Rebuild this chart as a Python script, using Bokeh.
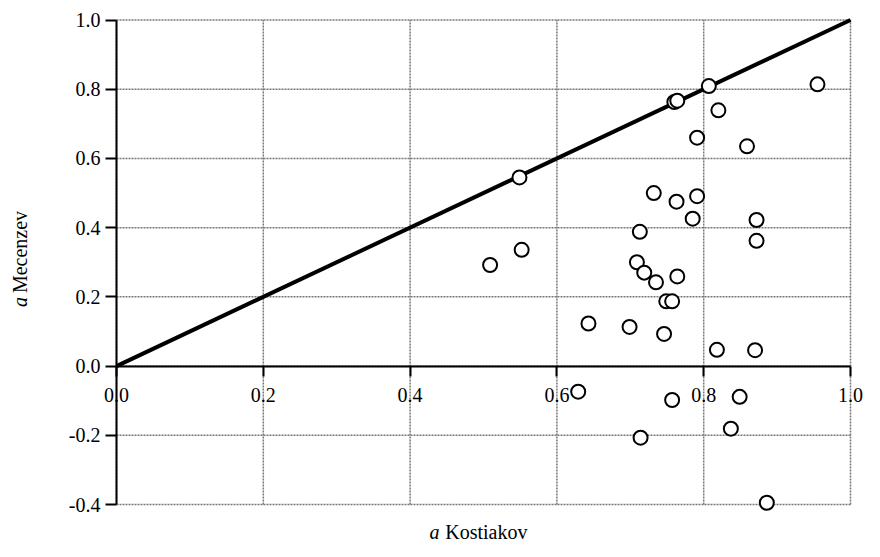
import math
from bokeh.plotting import figure
from bokeh.models import Range1d, FixedTicker, NumeralTickFormatter, Label
from bokeh.embed import file_html
from bokeh.resources import INLINE

# Data (a Kostiakov vs a Mecenzev)
kostiakov = [0.549, 0.760, 0.764, 0.807, 0.955, 0.820, 0.791, 0.859,
             0.732, 0.763, 0.791, 0.785, 0.872, 0.872, 0.713, 0.552,
             0.509, 0.709, 0.719, 0.735, 0.764, 0.749, 0.757, 0.643,
             0.699, 0.746, 0.818, 0.870, 0.629, 0.757, 0.849, 0.837,
             0.714, 0.886]
mecenzev = [0.545, 0.763, 0.767, 0.809, 0.814, 0.739, 0.660, 0.635,
            0.500, 0.475, 0.491, 0.426, 0.422, 0.362, 0.388, 0.336,
            0.292, 0.300, 0.270, 0.242, 0.259, 0.187, 0.187, 0.123,
            0.113, 0.093, 0.047, 0.046, -0.074, -0.098, -0.089, -0.181,
            -0.207, -0.395]

line_x = [0.0, 1.0]
line_y = [0.0, 1.0]

x_ticks = [0.0, 0.2, 0.4, 0.6, 0.8, 1.0]
y_ticks = [-0.4, -0.2, 0.0, 0.2, 0.4, 0.6, 0.8, 1.0]

FONT = "Liberation Serif"
FS = "20px"

# ---- layout (pixels inside the canvas) ----
W, H = 864, 541
PX_X0, PX_X1 = 116.0, 850.0      # pixel of x = 0 and x = 1
PX_YTOP, PX_YBOT = 19.5, 504.0   # pixel of y = 1.0 and y = -0.4
x_lo, x_hi = x_ticks[0], x_ticks[-1]
y_lo, y_hi = y_ticks[0], y_ticks[-1]
kx = (PX_X1 - PX_X0) / (x_hi - x_lo)
ky = (PX_YBOT - PX_YTOP) / (y_hi - y_lo)


def dx(px):
    return x_lo + (px - PX_X0) / kx


def dy(py):
    return y_hi - (py - PX_YTOP) / ky


p = figure(width=W, height=H, output_backend="svg", toolbar_location=None,
           title=None,
           x_range=Range1d(dx(0), dx(W)), y_range=Range1d(dy(H), dy(0)),
           min_border_left=0, min_border_right=0,
           min_border_top=0, min_border_bottom=0)
p.outline_line_color = None
p.background_fill_color = "white"
p.xgrid.visible = False
p.ygrid.visible = False

# dashed grid limited to the data box
nx, ny = len(x_ticks), len(y_ticks)
p.segment(x0=x_ticks, y0=[y_lo] * nx, x1=x_ticks, y1=[y_hi] * nx,
          line_color="#777777", line_dash="2 1", line_width=1.5)
p.segment(x0=[x_lo] * ny, y0=y_ticks, x1=[x_hi] * ny, y1=y_ticks,
          line_color="#777777", line_dash="2 1", line_width=1.5)

# x axis at y = 0
xa = p.xaxis[0]
xa.fixed_location = 0
xa.bounds = (x_lo, x_hi)
xa.ticker = FixedTicker(ticks=x_ticks)
xa.formatter = NumeralTickFormatter(format="0.0")
xa.axis_line_color = "black"
xa.axis_line_width = 2
xa.major_tick_line_color = "black"
xa.major_tick_line_width = 2
xa.major_tick_out = 10
xa.major_tick_in = 0
xa.minor_tick_line_color = None
xa.major_label_standoff = 12
xa.major_label_text_font = FONT
xa.major_label_text_font_size = FS
xa.major_label_text_color = "black"

# y axis at x = 0
ya = p.yaxis[0]
ya.fixed_location = 0
ya.bounds = (y_lo, y_hi)
ya.ticker = FixedTicker(ticks=y_ticks)
ya.formatter = NumeralTickFormatter(format="0.0")
ya.axis_line_color = "black"
ya.axis_line_width = 2
ya.major_tick_line_color = "black"
ya.major_tick_line_width = 2
ya.major_tick_out = 11
ya.major_tick_in = 0
ya.minor_tick_line_color = None
ya.major_label_standoff = 5
ya.major_label_text_font = FONT
ya.major_label_text_font_size = FS
ya.major_label_text_color = "black"

# 1:1 line
p.line(line_x, line_y, line_color="black", line_width=4)

# points
p.scatter(kostiakov, mecenzev, marker="circle", size=14,
          fill_color="white", line_color="black", line_width=2)

# axis titles (italic "a" + roman name)
p.add_layout(Label(x=0.4264, y=dy(531), text="a", text_font=FONT,
                   text_font_style="italic", text_font_size=FS,
                   text_align="left", text_baseline="alphabetic",
                   text_color="black"))
p.add_layout(Label(x=0.4479, y=dy(531), text="Kostiakov", text_font=FONT,
                   text_font_size=FS, text_align="left",
                   text_baseline="alphabetic", text_color="black"))
p.add_layout(Label(x=dx(19), y=0.1705, text="a", text_font=FONT,
                   text_font_style="italic", text_font_size=FS,
                   angle=math.pi / 2, text_align="left",
                   text_baseline="alphabetic", text_color="black"))
p.add_layout(Label(x=dx(19), y=0.2110, text="Mecenzev", text_font=FONT,
                   text_font_size=FS, angle=math.pi / 2,
                   text_align="left", text_baseline="alphabetic",
                   text_color="black"))

open("out.html", "w").write(file_html(p, INLINE))
